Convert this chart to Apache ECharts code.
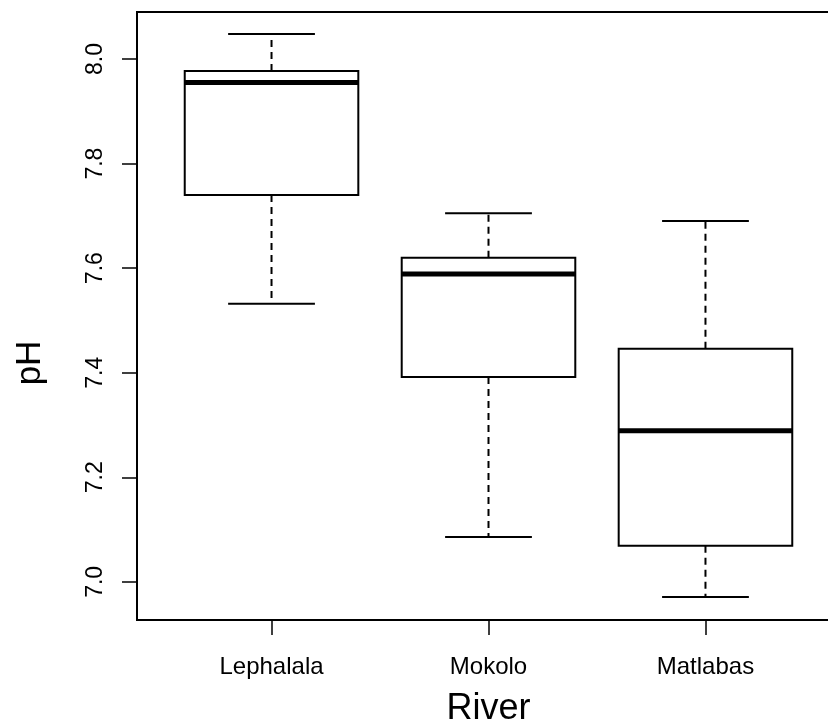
<!DOCTYPE html>
<html>
<head>
<meta charset="utf-8">
<script src="https://cdn.jsdelivr.net/npm/echarts@6/dist/echarts.min.js"></script>
<style>
  html, body { margin: 0; padding: 0; background: #fff; }
  #chart { width: 828px; height: 726px; }
</style>
</head>
<body>
<div id="chart"></div>
<script>
// pH per river: five-number summaries for the boxplot
const categories = ['Lephalala', 'Mokolo', 'Matlabas'];
const lowWhisker = [7.532, 7.086, 6.971];
const lowerQuartile = [7.740, 7.392, 7.069];
const medians = [7.955, 7.589, 7.289];
const upperQuartile = [7.977, 7.620, 7.446];
const highWhisker = [8.048, 7.705, 7.690];
const yTicks = [7.0, 7.2, 7.4, 7.6, 7.8, 8.0];

const FONT = '"Liberation Sans", Arial, sans-serif';
const INK = '#000';

const boxData = categories.map((c, i) => [
  i + 1, lowWhisker[i], lowerQuartile[i], medians[i], upperQuartile[i], highWhisker[i]
]);

function renderBox(params, api) {
  const x = api.value(0);
  const boxW = api.size([0.8, 0])[0];
  const capW = boxW / 2;
  const pLow = api.coord([x, api.value(1)]);
  const pQ1 = api.coord([x, api.value(2)]);
  const pMed = api.coord([x, api.value(3)]);
  const pQ3 = api.coord([x, api.value(4)]);
  const pHigh = api.coord([x, api.value(5)]);
  const cx = pQ1[0];
  const solid = { stroke: INK, lineWidth: 2, fill: null };
  const dashed = { stroke: INK, lineWidth: 2, lineDash: [7, 5], fill: null };
  return {
    type: 'group',
    children: [
      { type: 'line', shape: { x1: cx, y1: pQ3[1], x2: cx, y2: pHigh[1] }, style: dashed },
      { type: 'line', shape: { x1: cx, y1: pQ1[1], x2: cx, y2: pLow[1] }, style: dashed },
      { type: 'line', shape: { x1: cx - capW / 2, y1: pHigh[1], x2: cx + capW / 2, y2: pHigh[1] }, style: solid },
      { type: 'line', shape: { x1: cx - capW / 2, y1: pLow[1], x2: cx + capW / 2, y2: pLow[1] }, style: solid },
      { type: 'rect', shape: { x: cx - boxW / 2, y: pQ3[1], width: boxW, height: pQ1[1] - pQ3[1] },
        style: { stroke: INK, lineWidth: 2, fill: '#fff' } },
      { type: 'line', shape: { x1: cx - boxW / 2, y1: pMed[1], x2: cx + boxW / 2, y2: pMed[1] },
        style: { stroke: INK, lineWidth: 5 } }
    ]
  };
}

const chart = echarts.init(document.getElementById('chart'), null, { renderer: 'canvas' });
chart.setOption({
  backgroundColor: '#fff',
  animation: false,
  grid: {
    left: 137, top: 12, width: 703, height: 608,
    outerBoundsMode: 'none',
    containLabel: false,
    show: true, borderColor: INK, borderWidth: 2, backgroundColor: 'transparent'
  },
  xAxis: {
    type: 'value',
    min: 0.38, max: 3.62,
    name: 'River',
    nameLocation: 'middle',
    nameGap: 71,
    nameTextStyle: { fontFamily: FONT, fontSize: 36, color: INK },
    splitLine: { show: false },
    axisLine: { show: true, lineStyle: { color: INK, width: 2 } },
    axisTick: { show: true, length: 15, lineStyle: { color: INK, width: 1.5 }, customValues: [1, 2, 3] },
    axisLabel: {
      customValues: [1, 2, 3],
      margin: 35,
      fontFamily: FONT, fontSize: 24, color: INK,
      formatter: v => categories[Math.round(v) - 1] || ''
    }
  },
  yAxis: {
    type: 'value',
    min: 6.927, max: 8.090,
    splitLine: { show: false },
    axisLine: { show: true, lineStyle: { color: INK, width: 2 } },
    axisTick: { show: true, length: 15, lineStyle: { color: INK, width: 1.5 }, customValues: yTicks },
    axisLabel: {
      customValues: yTicks,
      rotate: 90,
      margin: 30,
      fontFamily: FONT, fontSize: 23, color: INK,
      formatter: v => Number(v).toFixed(1)
    }
  },
  graphic: [{
    type: 'text',
    x: 30, y: 363,
    rotation: Math.PI / 2,
    style: {
      text: 'pH', fontFamily: FONT, fontSize: 35, fill: INK,
      align: 'center', verticalAlign: 'middle'
    }
  }],
  series: [{
    type: 'custom',
    renderItem: renderBox,
    encode: { x: 0, y: [1, 2, 3, 4, 5] },
    data: boxData,
    clip: false
  }]
});
</script>
</body>
</html>
